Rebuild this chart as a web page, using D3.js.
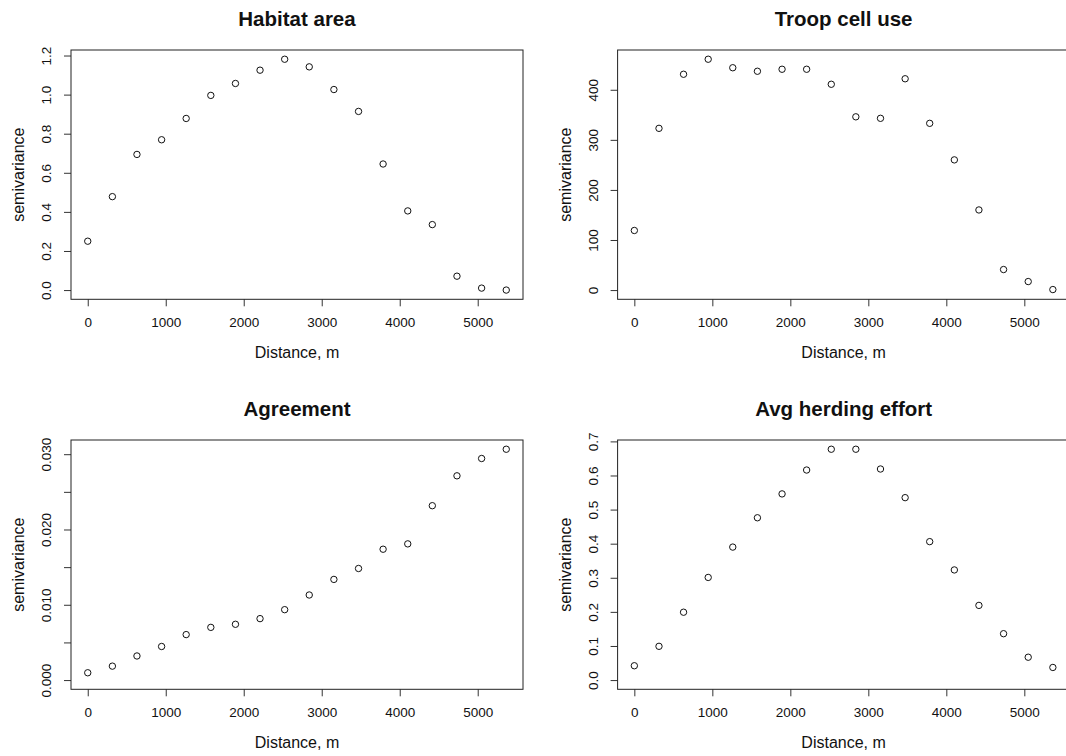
<!DOCTYPE html>
<html>
  <head>
    <meta charset="UTF-8">
    <title>Semivariograms</title>
    <style>
      * { margin: 0; padding: 0; overflow: hidden; }
      body { background: #fff; }
      text { font-family: "Liberation Sans", Arial, Helvetica, sans-serif; fill: #111; }
    </style>
    <script src="https://d3js.org/d3.v7.min.js"></script>
  </head>
  <body>
    <script type="text/javascript">
      // lag distances (m), shared by all four panels
      const distance = [0, 316, 631, 947, 1262, 1578, 1894, 2209, 2525, 2840, 3156, 3472, 3787, 4103, 4418, 4734, 5050, 5366];

      // semivariance
      const habitatArea = [0.250, 0.478, 0.694, 0.769, 0.878, 0.996, 1.057, 1.125, 1.181, 1.142, 1.026, 0.914, 0.645, 0.405, 0.335, 0.071, 0.010, 0.000];
      const troopCellUse = [119, 323, 431, 461, 444, 437, 441, 441, 411, 346, 343, 422, 333, 260, 160, 41, 17, 1];
      const agreement = [0.00097, 0.00185, 0.0032, 0.00446, 0.00604, 0.0070, 0.00741, 0.00816, 0.00935, 0.0113, 0.01337, 0.01482, 0.01738, 0.01809, 0.02316, 0.02713, 0.02943, 0.03066];
      const herdingEffort = [0.042, 0.099, 0.199, 0.301, 0.390, 0.476, 0.546, 0.616, 0.677, 0.677, 0.619, 0.535, 0.406, 0.323, 0.219, 0.136, 0.067, 0.037];

      // tick labels
      const distanceTicks = [0, 1000, 2000, 3000, 4000, 5000];
      const habitatTicks = [0, 0.2, 0.4, 0.6, 0.8, 1.0, 1.2];
      const troopTicks = [0, 100, 200, 300, 400];
      const agreementTicks = [0, 0.005, 0.010, 0.015, 0.020, 0.025, 0.030];
      const agreementLabels = [0, 0.010, 0.020, 0.030];
      const herdingTicks = [0, 0.1, 0.2, 0.3, 0.4, 0.5, 0.6, 0.7];

      const titles = ["Habitat area", "Troop cell use", "Agreement", "Avg herding effort"];

      const WIDTH = 1066, HEIGHT = 756;
      const BOX = { left: 71, top: 50, width: 452, height: 249.3 };
      const DX = 546.6, DY = 390;

      const svg = d3.select("body").append("svg")
        .attr("width", WIDTH)
        .attr("height", HEIGHT);

      // R style: range padded by 4% on each side
      const padded = (lo, hi) => {
        const r = hi - lo;
        return [lo - 0.04 * r, hi + 0.04 * r];
      };

      const panels = [
        { values: habitatArea, ticks: habitatTicks, labels: habitatTicks, fmt: d3.format(".1f") },
        { values: troopCellUse, ticks: troopTicks, labels: troopTicks, fmt: d3.format("d") },
        { values: agreement, ticks: agreementTicks, labels: agreementLabels, fmt: d3.format(".3f") },
        { values: herdingEffort, ticks: herdingTicks, labels: herdingTicks, fmt: d3.format(".1f") }
      ];

      panels.forEach((p, i) => {
        const ox = BOX.left + (i % 2) * DX;
        const oy = BOX.top + Math.floor(i / 2) * DY;
        const g = svg.append("g").attr("transform", `translate(${ox}, ${oy})`);

        const x = d3.scaleLinear()
          .domain(padded(d3.min(distance), d3.max(distance)))
          .range([0, BOX.width]);
        const y = d3.scaleLinear()
          .domain(padded(0, d3.max(p.values)))
          .range([BOX.height, 0]);

        // x axis
        const xAxis = g.append("g")
          .attr("transform", `translate(0, ${BOX.height})`)
          .call(d3.axisBottom(x).tickValues(distanceTicks).tickSize(7).tickFormat(d3.format("d")));
        xAxis.select(".domain").remove();
        xAxis.selectAll(".tick line").attr("stroke", "#333");
        xAxis.selectAll(".tick text")
          .attr("y", 28).attr("dy", 0)
          .attr("font-size", "13.5px")
          .style("font-family", "Liberation Sans, Arial, sans-serif")
          .attr("fill", "#111");

        // y axis, labels parallel to the axis
        const yAxis = g.append("g")
          .call(d3.axisLeft(y).tickValues(p.ticks).tickSize(7)
            .tickFormat((d) => p.labels.some((v) => Math.abs(v - d) < 1e-9) ? p.fmt(d) : ""));
        yAxis.select(".domain").remove();
        yAxis.selectAll(".tick line").attr("stroke", "#333");
        yAxis.selectAll(".tick text")
          .attr("x", 0).attr("y", -20).attr("dy", 0)
          .attr("transform", "rotate(-90)")
          .attr("text-anchor", "middle")
          .attr("font-size", "13.5px")
          .style("font-family", "Liberation Sans, Arial, sans-serif")
          .attr("fill", "#111");

        // plot box
        g.append("rect")
          .attr("width", BOX.width)
          .attr("height", BOX.height)
          .attr("fill", "none")
          .attr("stroke", "#222")
          .attr("stroke-width", 1);

        // points
        g.selectAll("circle")
          .data(p.values)
          .enter()
          .append("circle")
          .attr("cx", (d, j) => x(distance[j]))
          .attr("cy", (d) => y(d))
          .attr("r", 3.2)
          .attr("fill", "none")
          .attr("stroke", "#111")
          .attr("stroke-width", 1);

        // title
        g.append("text")
          .attr("x", BOX.width / 2)
          .attr("y", -24)
          .attr("text-anchor", "middle")
          .attr("font-size", "20.5px")
          .attr("font-weight", "bold")
          .text(titles[i]);

        // axis titles
        g.append("text")
          .attr("x", BOX.width / 2)
          .attr("y", BOX.height + 58.5)
          .attr("text-anchor", "middle")
          .attr("font-size", "16px")
          .text("Distance, m");

        g.append("text")
          .attr("transform", `translate(-47, ${BOX.height / 2}) rotate(-90)`)
          .attr("text-anchor", "middle")
          .attr("font-size", "16px")
          .text("semivariance");
      });
    </script>
  </body>
</html>
